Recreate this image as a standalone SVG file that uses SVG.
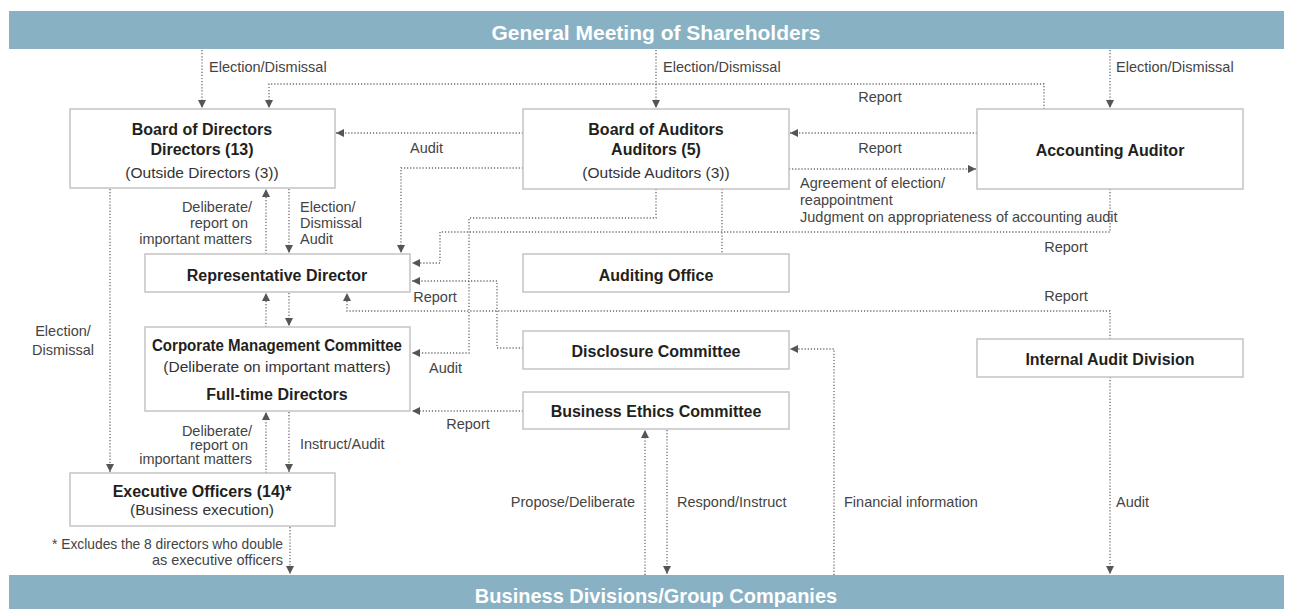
<svg xmlns="http://www.w3.org/2000/svg" width="1293" height="609" viewBox="0 0 1293 609">
  <style>
    .banner { fill: #89b1c4; }
    .banner-text { font-family: "Liberation Sans", Arial, sans-serif; font-weight: bold; fill: #ffffff; text-anchor: middle; }
    .box { fill: #ffffff; stroke: #c4c4c4; stroke-width: 1.5; }
    .title { font-family: "Liberation Sans", Arial, sans-serif; font-weight: bold; font-size: 16px; fill: #231f20; text-anchor: middle; }
    .sub { font-family: "Liberation Sans", Arial, sans-serif; font-size: 15.5px; fill: #333; text-anchor: middle; }
    .label { font-family: "Liberation Sans", Arial, sans-serif; font-size: 14.5px; fill: #444; }
    .end { text-anchor: end; }
    .mid { text-anchor: middle; }
    .link { fill: none; stroke: #6a6a6a; stroke-width: 1.3; stroke-dasharray: 1.2 1.9; }
    .arrow { marker-end: url(#head); }
  </style>
  <defs>
    <marker id="head" markerUnits="userSpaceOnUse" markerWidth="9" markerHeight="9" refX="8" refY="4" orient="auto">
      <path d="M0,0 L8,4 L0,8 Z" fill="#555"/>
    </marker>
  </defs>

  <rect width="1293" height="609" fill="#ffffff"/>

  <!-- banners -->
  <g id="shareholders">
    <rect class="banner" x="9" y="11" width="1275" height="38"/>
    <text class="banner-text" x="656" y="40" font-size="21">General Meeting of Shareholders</text>
  </g>
  <g id="business-divisions">
    <rect class="banner" x="9" y="575" width="1275" height="34"/>
    <text class="banner-text" x="656" y="603" font-size="20">Business Divisions/Group Companies</text>
  </g>

  <!-- connectors -->
  <g id="connectors">
    <path class="link arrow" d="M202,50 V108"/>
    <path class="link arrow" d="M656,50 V108"/>
    <path class="link arrow" d="M1110,50 V108"/>
    <path class="link arrow" d="M1044,109 V84 H269 V108"/>
    <path class="link arrow" d="M523,133 H336"/>
    <path class="link arrow" d="M977,133 H790"/>
    <path class="link arrow" d="M789,169 H976"/>
    <path class="link arrow" d="M523,168 H401 V253"/>
    <path class="link arrow" d="M1110,189 V232 H440 V263 H412"/>
    <path class="link arrow" d="M656,189 V218 H469 V353 H412"/>
    <path class="link" d="M722,189 V254"/>
    <path class="link arrow" d="M523,348 H497 V281 H412"/>
    <path class="link arrow" d="M1110,339 V311 H347 V293"/>
    <path class="link arrow" d="M834,575 V349 H790"/>
    <path class="link arrow" d="M523,411 H412"/>
    <path class="link arrow" d="M645,575 V430"/>
    <path class="link arrow" d="M667,430 V574"/>
    <path class="link arrow" d="M1110,377 V574"/>
    <path class="link arrow" d="M266,254 V189"/>
    <path class="link arrow" d="M289,189 V253"/>
    <path class="link arrow" d="M266,327 V293"/>
    <path class="link arrow" d="M289,293 V326"/>
    <path class="link arrow" d="M266,473 V412"/>
    <path class="link arrow" d="M289,412 V472"/>
    <path class="link arrow" d="M110,189 V472"/>
    <path class="link arrow" d="M290,527 V574"/>

    <!-- connector labels -->
    <text class="label" x="209" y="72">Election/Dismissal</text>
    <text class="label" x="663" y="72">Election/Dismissal</text>
    <text class="label" x="1116" y="72">Election/Dismissal</text>
    <text class="label mid" x="880" y="102">Report</text>
    <text class="label mid" x="880" y="153">Report</text>
    <text class="label" x="410" y="153">Audit</text>
    <text class="label" x="800" y="188">Agreement of election/</text>
    <text class="label" x="800" y="205">reappointment</text>
    <text class="label" x="800" y="222">Judgment on appropriateness of accounting audit</text>
    <text class="label mid" x="1066" y="252">Report</text>
    <text class="label mid" x="435" y="302">Report</text>
    <text class="label mid" x="1066" y="301">Report</text>
    <text class="label" x="429" y="373">Audit</text>
    <text class="label mid" x="468" y="429">Report</text>
    <text class="label end" x="252" y="212">Deliberate/</text>
    <text class="label end" x="248" y="228">report on</text>
    <text class="label end" x="252" y="244">important matters</text>
    <text class="label" x="300" y="212">Election/</text>
    <text class="label" x="300" y="228">Dismissal</text>
    <text class="label" x="300" y="244">Audit</text>
    <text class="label mid" x="63" y="336">Election/</text>
    <text class="label mid" x="63" y="355">Dismissal</text>
    <text class="label end" x="252" y="436">Deliberate/</text>
    <text class="label end" x="248" y="450">report on</text>
    <text class="label end" x="252" y="464">important matters</text>
    <text class="label" x="300" y="449">Instruct/Audit</text>
    <text class="label end" x="635" y="507">Propose/Deliberate</text>
    <text class="label" x="677" y="507">Respond/Instruct</text>
    <text class="label" x="844" y="507">Financial information</text>
    <text class="label" x="1116" y="507">Audit</text>
    <text class="label" x="52" y="549" textLength="231" lengthAdjust="spacingAndGlyphs">* Excludes the 8 directors who double</text>
    <text class="label end" x="283" y="565">as executive officers</text>
  </g>

  <!-- nodes -->
  <g id="board-of-directors">
    <rect class="box" x="70" y="109" width="265" height="79"/>
    <text class="title" x="202" y="135">Board of Directors</text>
    <text class="title" x="202" y="155">Directors (13)</text>
    <text class="sub" x="202" y="178">(Outside Directors (3))</text>
  </g>
  <g id="board-of-auditors">
    <rect class="box" x="523" y="109" width="266" height="80"/>
    <text class="title" x="656" y="135">Board of Auditors</text>
    <text class="title" x="656" y="155">Auditors (5)</text>
    <text class="sub" x="656" y="178">(Outside Auditors (3))</text>
  </g>
  <g id="accounting-auditor">
    <rect class="box" x="977" y="109" width="266" height="80"/>
    <text class="title" x="1110" y="156">Accounting Auditor</text>
  </g>
  <g id="representative-director">
    <rect class="box" x="145" y="254" width="265" height="38"/>
    <text class="title" x="277" y="281">Representative Director</text>
  </g>
  <g id="auditing-office">
    <rect class="box" x="523" y="254" width="266" height="38"/>
    <text class="title" x="656" y="281">Auditing Office</text>
  </g>
  <g id="corporate-management-committee">
    <rect class="box" x="145" y="327" width="265" height="84"/>
    <text class="title" x="277" y="351" font-size="15" textLength="250" lengthAdjust="spacingAndGlyphs">Corporate Management Committee</text>
    <text class="sub" x="277" y="372">(Deliberate on important matters)</text>
    <text class="title" x="277" y="400">Full-time Directors</text>
  </g>
  <g id="disclosure-committee">
    <rect class="box" x="523" y="331" width="266" height="38"/>
    <text class="title" x="656" y="357">Disclosure Committee</text>
  </g>
  <g id="internal-audit-division">
    <rect class="box" x="977" y="339" width="266" height="38"/>
    <text class="title" x="1110" y="365">Internal Audit Division</text>
  </g>
  <g id="business-ethics-committee">
    <rect class="box" x="523" y="392" width="266" height="37"/>
    <text class="title" x="656" y="417">Business Ethics Committee</text>
  </g>
  <g id="executive-officers">
    <rect class="box" x="70" y="473" width="265" height="53"/>
    <text class="title" x="202" y="497">Executive Officers (14)*</text>
    <text class="sub" x="202" y="515">(Business execution)</text>
  </g>
</svg>
